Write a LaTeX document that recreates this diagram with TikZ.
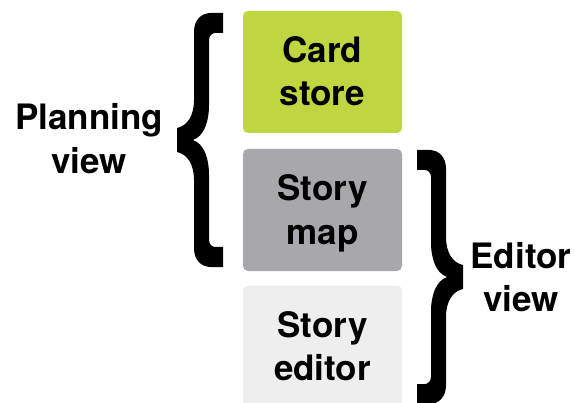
\documentclass[tikz,border=0pt]{standalone}
\usepackage{fontspec}
\setmainfont{TeX Gyre Heros}
\definecolor{cardgreen}{RGB}{192,214,64}
\definecolor{mapgray}{RGB}{168,167,172}
\definecolor{editgray}{RGB}{238,238,238}
\newcommand{\bracefill}{%
  \fill (46,-127) -- (34,-127) .. controls (24,-127) and (17,-120) .. (17,-108)
    -- (17,-40) .. controls (17,-24) and (10,-14) .. (0,-12)
    -- (0,12) .. controls (10,14) and (17,24) .. (17,40)
    -- (17,108) .. controls (17,120) and (24,127) .. (34,127)
    -- (46,127) -- (46,107) -- (38,107) .. controls (35,107) and (32,104) .. (32,100)
    -- (32,35) .. controls (32,18) and (27,4) .. (16,0)
    .. controls (27,-4) and (32,-18) .. (32,-35)
    -- (32,-100) .. controls (32,-104) and (35,-107) .. (38,-107)
    -- (46,-107) -- cycle;}
\begin{document}
\begin{tikzpicture}[x=1pt,y=-1pt,
  box/.style={rounded corners=5pt, minimum width=159pt, minimum height=122pt,
    inner sep=0pt, align=center, font=\fontsize{35}{43.5}\selectfont\bfseries,
    text height=68.5pt, text depth=0.5pt},
  lbl/.style={inner sep=0pt, align=center, font=\fontsize{35}{43.5}\selectfont\bfseries,
    text height=68.5pt, text depth=0.5pt}]
\useasboundingbox (0,0) rectangle (575,403);
\node[box, fill=cardgreen] (card) at (322.5,72) {Card\\store};
\node[box, fill=mapgray] (map) at (322.5,210) {Story\\map};
\node[box, fill=editgray] (editor) at (322.5,346.5) {Story\\editor};
\node[lbl] (planning) at (89,139.5) {Planning\\view};
\node[lbl] (editview) at (521,277.5) {Editor\\view};
\begin{scope}[shift={(177,140)}]
  \bracefill
\end{scope}
\begin{scope}[shift={(463,277)}, xscale=-1]
  \bracefill
\end{scope}
\end{tikzpicture}
\end{document}
